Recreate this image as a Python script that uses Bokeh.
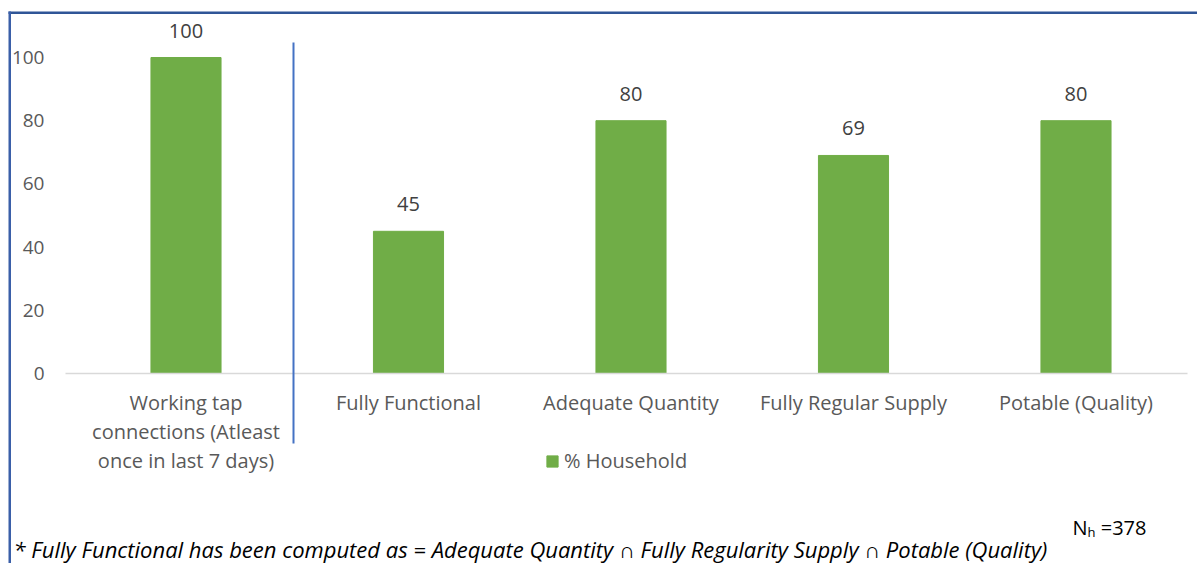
from bokeh.plotting import figure
from bokeh.models import ColumnDataSource, FixedTicker, Label, BoxAnnotation, Legend, LegendItem, LinearAxis
from bokeh.embed import file_html
from bokeh.resources import INLINE
from bokeh.core.properties import value

categories = ["Working tap\nconnections (Atleast\nonce in last 7 days)",
              "Fully Functional", "Adequate Quantity",
              "Fully Regular Supply", "Potable (Quality)"]
households = [100, 45, 80, 69, 80]
y_ticks = [0, 20, 40, 60, 80, 100]
series_name = "% Household"
sample_note = "N\u2095 =378"
footnote = ("* Fully Functional has been computed as = Adequate Quantity \u2229 "
            "Fully Regularity Supply \u2229 Potable (Quality)")

FONT = "Open Sans"
GREEN = "#70ad47"
GREY = "#595959"
W, H = 1197, 563
FS = "20px"

xs = list(range(len(categories)))
src = ColumnDataSource(dict(x=xs, y=households, label=[str(v) for v in households]))

p = figure(width=W, height=H, x_range=(-0.8337, 4.5461), y_range=(-60.13, 118.04),
           output_backend="svg", toolbar_location=None,
           x_axis_location=None, y_axis_location=None,
           min_border_left=0, min_border_right=0, min_border_top=0, min_border_bottom=0)
p.outline_line_color = None
p.xgrid.visible = False
p.ygrid.visible = False
p.background_fill_color = "white"
p.border_fill_color = "white"

bars = p.vbar(x="x", top="y", width=0.315, source=src, fill_color=GREEN, line_color=GREEN)
p.text(x="x", y="y", text="label", source=src, text_align="center", text_baseline="middle",
       y_offset=-27, text_font=value(FONT), text_font_size=FS, text_color="#404040")

yaxis = LinearAxis(fixed_location=-0.5416, bounds=(0, 100), ticker=FixedTicker(ticks=y_ticks))
yaxis.axis_line_color = None
yaxis.major_tick_line_color = None
yaxis.minor_tick_line_color = None
yaxis.major_label_standoff = 15
yaxis.major_label_text_font = FONT
yaxis.major_label_text_font_size = "19px"
yaxis.major_label_text_color = GREY
p.add_layout(yaxis, "left")

xaxis = LinearAxis(fixed_location=0, bounds=(-0.5416, 4.501), ticker=FixedTicker(ticks=xs))
xaxis.major_label_overrides = {i: c for i, c in enumerate(categories)}
xaxis.axis_line_color = "#d9d9d9"
xaxis.axis_line_width = 1.5
xaxis.major_tick_line_color = None
xaxis.minor_tick_line_color = None
xaxis.major_label_standoff = 10
xaxis.major_label_text_font = FONT
xaxis.major_label_text_font_size = FS
xaxis.major_label_text_color = GREY
xaxis.major_label_text_line_height = 1.06
p.add_layout(xaxis, "below")

legend = Legend(items=[LegendItem(label=series_name, renderers=[bars])],
                location=(545, 89), orientation="horizontal",
                padding=0, margin=0, border_line_color=None, background_fill_alpha=0,
                glyph_width=14, glyph_height=14, label_height=20, label_standoff=5,
                label_text_font=FONT, label_text_font_size=FS, label_text_color=GREY)
p.add_layout(legend, "center")

def frame_box(left, right, bottom, top, color):
    return BoxAnnotation(left=left, right=right, bottom=bottom, top=top,
                         left_units="screen", right_units="screen",
                         bottom_units="screen", top_units="screen",
                         fill_color=color, fill_alpha=1, line_color=None, level="overlay")

p.add_layout(frame_box(8, W, H - 13.5, H - 11, "#2f5597"))
p.add_layout(frame_box(8, 10.5, 0, H - 11, "#3a5fa8"))
p.add_layout(frame_box(292, 294, H - 443, H - 42, "#4472c4"))

p.add_layout(Label(x=1072, y=H - 527, x_units="screen", y_units="screen", text=sample_note,
                   text_font=FONT, text_font_size=FS, text_color="black",
                   text_baseline="middle"))
p.add_layout(Label(x=13, y=H - 548, x_units="screen", y_units="screen", text=footnote,
                   text_font=FONT, text_font_size="22px", text_font_style="italic",
                   text_color="black", text_baseline="middle"))

open("out.html", "w").write(file_html(p, INLINE))
